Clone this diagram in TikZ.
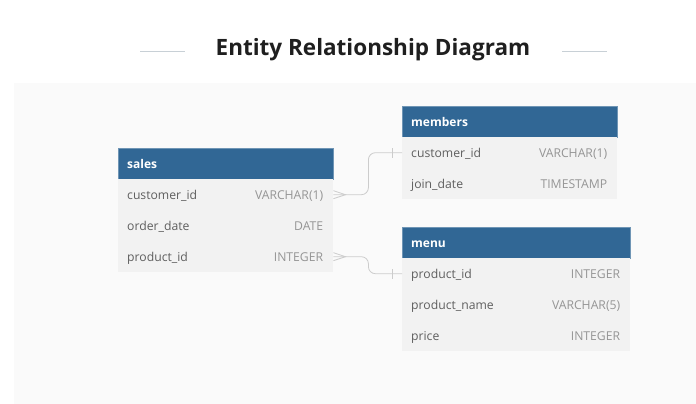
\documentclass[tikz,border=0pt]{standalone}
\usepackage{fontspec}
\setmainfont{Open Sans}
\usepackage{tikz}

\definecolor{headblue}{HTML}{316795}
\definecolor{rowgray}{HTML}{F2F2F2}
\definecolor{panelgray}{HTML}{FAFAFA}
\definecolor{nametext}{HTML}{5F5F5F}
\definecolor{typetext}{HTML}{959595}
\definecolor{linkgray}{HTML}{CCCCCC}
\definecolor{rulegray}{HTML}{C8D0D6}

\begin{document}
\begin{tikzpicture}[
        x=1pt, y=-1pt,
        head/.style={rectangle, fill=headblue, draw=headblue!70!white, line width=0.6pt,
            anchor=north west, minimum height=31pt, inner sep=0pt},
        headtext/.style={text=white, font=\bfseries\fontsize{12}{14}\selectfont, anchor=west,
            inner sep=0pt, text height=11pt, text depth=1pt},
        row/.style={rectangle, fill=rowgray, anchor=north west, minimum height=31pt, inner sep=0pt},
        colname/.style={text=nametext, font=\fontsize{12.2}{14}\selectfont, anchor=west,
            inner sep=0pt, text height=11pt, text depth=1pt},
        coltype/.style={text=typetext, font=\fontsize{12.2}{14}\selectfont, anchor=east,
            inner sep=0pt, text height=11pt, text depth=1pt},
        link/.style={draw=linkgray, line width=0.8pt},
    ]

    \useasboundingbox (0,0) rectangle (696,404);
    \fill[panelgray] (14,83) rectangle (696,404);

    % title
    \node[font=\bfseries\fontsize{22.5}{26}\selectfont, text=black!88] (title) at (373,50) {Entity Relationship Diagram};
    \draw[rulegray, line width=0.6pt] (140,51) -- (185,51);
    \draw[rulegray, line width=0.6pt] (562,51) -- (607,51);

    % sales
    \node[head, minimum width=215pt] (sales) at (118,148) {};
    \node[headtext] (sales-t) at ([xshift=9pt]sales.west) {sales};
    \foreach \i/\n/\t in {1/customer\_id/VARCHAR(1), 2/order\_date/DATE, 3/product\_id/INTEGER}
    {
        \node[row, minimum width=215pt] (sales-\i) at (118, 148 + 31*\i) {};
        \node[colname] (sales-\i-n) at ([xshift=9pt]sales-\i.west) {\n};
        \node[coltype] (sales-\i-t) at ([xshift=-10pt]sales-\i.east) {\t};
    }

    % members
    \node[head, minimum width=215pt] (members) at (402,106) {};
    \node[headtext] (members-t) at ([xshift=9pt]members.west) {members};
    \foreach \i/\n/\t in {1/customer\_id/VARCHAR(1), 2/join\_date/TIMESTAMP}
    {
        \node[row, minimum width=215pt] (members-\i) at (402, 106 + 31*\i) {};
        \node[colname] (members-\i-n) at ([xshift=9pt]members-\i.west) {\n};
        \node[coltype] (members-\i-t) at ([xshift=-10pt]members-\i.east) {\t};
    }

    % menu
    \node[head, minimum width=228pt] (menu) at (402,227) {};
    \node[headtext] (menu-t) at ([xshift=9pt]menu.west) {menu};
    \foreach \i/\n/\t in {1/product\_id/INTEGER, 2/product\_name/VARCHAR(5), 3/price/INTEGER}
    {
        \node[row, minimum width=228pt] (menu-\i) at (402, 227 + 31*\i) {};
        \node[colname] (menu-\i-n) at ([xshift=9pt]menu-\i.west) {\n};
        \node[coltype] (menu-\i-t) at ([xshift=-10pt]menu-\i.east) {\t};
    }

    % relations
    \draw[link, rounded corners=7pt] (sales-1.east) -- ++(35,0) |- (members-1.west);
    \draw[link, rounded corners=7pt] (sales-3.east) -- ++(35,0) |- (menu-1.west);

    \foreach \e in {sales-1, sales-3}
        \draw[link] ([yshift=-4pt]\e.east) -- ([xshift=12pt]\e.east) -- ([yshift=4pt]\e.east);

    \foreach \e in {members-1, menu-1}
        \draw[link] ([xshift=-10pt, yshift=-5pt]\e.west) -- ([xshift=-10pt, yshift=5pt]\e.west);

\end{tikzpicture}
\end{document}
